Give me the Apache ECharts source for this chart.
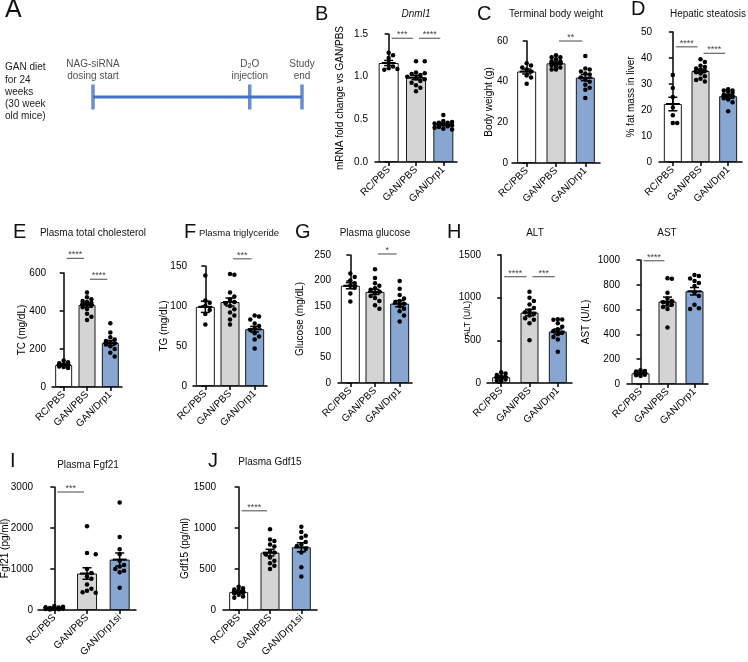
<!DOCTYPE html>
<html><head><meta charset="utf-8">
<script src="https://cdn.jsdelivr.net/npm/echarts@6/dist/echarts.min.js"></script>
<style>html,body{margin:0;padding:0;background:#fff}#c{width:748px;height:662px}</style>
</head><body><div id="c"></div>
<script>
// ---------- data ----------
const groups3 = ['RC/PBS', 'GAN/PBS', 'GAN/Drp1'];
const groupsSi = ['RC/PBS', 'GAN/PBS', 'GAN/Drp1si'];

// Panel A timeline
const timelineWeeks = [0, 9, 12];
const timelineTop = ['NAG-siRNA\ndosing start', 'D{s|2}O\ninjection', 'Study\nend'];
const timelineBottom = ['Week 0\n(weekly\ninjections)', 'Week 9', 'Week 12'];
const dietNote = ['GAN diet', 'for 24', 'weeks', '(30 week', 'old mice)'];

// B Dnml1
const dnmRC = [1.28, 1.25, 1.22, 1.16, 1.12, 1.10, 1.09, 1.08];
const dnmGAN = [1.18, 1.18, 1.05, 1.04, 1.03, 1.02, 1.00, 0.98, 0.97, 0.95, 0.93, 0.90, 0.87, 0.83];
const dnmDrp = [0.55, 0.48, 0.47, 0.46, 0.46, 0.45, 0.44, 0.43, 0.42, 0.41, 0.40, 0.39, 0.38];
const dnmMean = [1.16, 0.99, 0.44];
const dnmSem = [0.03, 0.026, 0.013];
const dnmSig = [[0, 1, 1.45, '***'], [1, 2, 1.45, '****']];

// C Terminal body weight
const bwRC = [49, 48, 47, 46, 45, 43, 42, 39];
const bwGAN = [53, 52, 52, 51, 50, 50, 49, 49, 48, 48, 47, 47, 46, 46];
const bwDrp = [52.6, 46.5, 46, 45, 44, 43.5, 42, 41, 40, 38.5, 37, 36, 32];
const bwMean = [45, 49, 42];
const bwSem = [1.2, 0.6, 1.5];
const bwSig = [[1, 2, 60, '**']];

// D Hepatic steatosis
const fatRC = [33.5, 28.5, 25, 21, 18, 15, 15];
const fatGAN = [39.5, 38.5, 37, 36.5, 36, 35.5, 35, 34.5, 34, 33, 32, 31.5, 31];
const fatDrp = [28, 27.5, 27.5, 27, 26.5, 26, 25.5, 25, 24.5, 24, 23, 19.5];
const fatMean = [22.3, 35, 25.3];
const fatSem = [2.6, 0.7, 0.7];
const fatSig = [[0, 1, 44.3, '****'], [1, 2, 41.8, '****']];

// E Plasma total cholesterol
const tcRC = [140, 130, 125, 120, 118, 115, 112, 110, 108, 105, 100];
const tcGAN = [497, 472, 462, 452, 447, 442, 440, 435, 428, 420, 410, 385, 370, 352];
const tcDrp = [335, 287, 262, 250, 242, 236, 230, 224, 214, 200, 180, 160];
const tcMean = [116, 432, 232];
const tcSem = [4, 11, 13];
const tcSig = [[0, 1, 677, '****'], [1, 2, 567, '****']];

// F Plasma triglyceride
const tgRC = [138, 107, 104, 100, 95, 90, 77];
const tgGAN = [140, 139, 117, 112, 108, 105, 103, 100, 96, 92, 88, 83, 77];
const tgDrp = [88, 87, 83, 78, 75, 72, 70, 66, 62, 58, 47];
const tgMean = [99, 105, 71];
const tgSem = [7, 5, 3.5];
const tgSig = [[1, 2, 159, '***']];

// G Plasma glucose
const gluRC = [214, 207, 200, 195, 190, 186, 175, 159];
const gluGAN = [222, 205, 195, 190, 185, 182, 178, 175, 170, 166, 160, 152, 145];
const gluDrp = [199, 184, 172, 165, 160, 158, 155, 150, 145, 140, 132, 120];
const gluMean = [190, 178, 155];
const gluSem = [6, 5, 6];
const gluSig = [[1, 2, 252, '*']];

// H ALT
const altRC = [125, 110, 95, 80, 70, 60, 50, 40, 30, 20];
const altGAN = [1070, 1000, 960, 920, 880, 850, 830, 810, 790, 760, 740, 700, 500];
const altDrp = [748, 745, 740, 700, 660, 630, 610, 590, 570, 540, 510, 365];
const altMean = [68, 825, 603];
const altSem = [11, 38, 30];
const altSig = [[0, 1, 1246, '****'], [1, 2, 1246, '***']];

// H AST
const astRC = [110, 105, 100, 95, 90, 85, 80, 75, 70, 65];
const astGAN = [852, 848, 735, 690, 670, 660, 650, 640, 620, 605, 455];
const astDrp = [880, 870, 850, 830, 815, 790, 740, 710, 640, 610, 605];
const astMean = [86, 665, 748];
const astSem = [5, 36, 30];
const astSig = [[0, 1, 994, '****']];

// I Plasma Fgf21
const fgfRC = [100, 80, 70, 60, 50, 40, 30, 25, 20, 15];
const fgfGAN = [2040, 1390, 1360, 1000, 900, 820, 760, 620, 520, 470, 430, 420];
const fgfDrp = [2620, 1780, 1480, 1360, 1200, 1100, 1060, 1000, 960, 920, 540];
const fgfMean = [50, 890, 1230];
const fgfSem = [9, 140, 160];
const fgfSig = [[0, 1, 2878, '***']];

// J Plasma Gdf15
const gdfRC = [285, 265, 250, 240, 232, 225, 218, 210, 200, 185, 165, 150];
const gdfGAN = [985, 860, 840, 800, 775, 720, 700, 680, 640, 600, 570, 540, 500];
const gdfDrp = [1015, 950, 905, 880, 830, 800, 780, 745, 700, 520, 410];
const gdfMean = [218, 700, 765];
const gdfSem = [12, 40, 55];
const gdfSig = [[0, 1, 1210, '****']];

const panels = [
  {letter: 'B', title: 'Dnml1', yname: 'mRNA fold change vs GAN/PBS', cats: groups3, mean: dnmMean, sem: dnmSem, pts: [dnmRC, dnmGAN, dnmDrp], sig: dnmSig},
  {letter: 'C', title: 'Terminal body weight', yname: 'Body weight (g)', cats: groups3, mean: bwMean, sem: bwSem, pts: [bwRC, bwGAN, bwDrp], sig: bwSig},
  {letter: 'D', title: 'Hepatic steatosis', yname: '% fat mass in liver', cats: groups3, mean: fatMean, sem: fatSem, pts: [fatRC, fatGAN, fatDrp], sig: fatSig},
  {letter: 'E', title: 'Plasma total cholesterol', yname: 'TC (mg/dL)', cats: groups3, mean: tcMean, sem: tcSem, pts: [tcRC, tcGAN, tcDrp], sig: tcSig},
  {letter: 'F', title: 'Plasma triglyceride', yname: 'TG (mg/dL)', cats: groups3, mean: tgMean, sem: tgSem, pts: [tgRC, tgGAN, tgDrp], sig: tgSig},
  {letter: 'G', title: 'Plasma glucose', yname: 'Glucose (mg/dL)', cats: groups3, mean: gluMean, sem: gluSem, pts: [gluRC, gluGAN, gluDrp], sig: gluSig},
  {letter: 'H', title: 'ALT', yname: 'ALT (U/L)', cats: groups3, mean: altMean, sem: altSem, pts: [altRC, altGAN, altDrp], sig: altSig},
  {letter: '', title: 'AST', yname: 'AST (U/L)', cats: groups3, mean: astMean, sem: astSem, pts: [astRC, astGAN, astDrp], sig: astSig},
  {letter: 'I', title: 'Plasma Fgf21', yname: 'Fgf21 (pg/ml)', cats: groupsSi, mean: fgfMean, sem: fgfSem, pts: [fgfRC, fgfGAN, fgfDrp], sig: fgfSig},
  {letter: 'J', title: 'Plasma Gdf15', yname: 'Gdf15 (pg/ml)', cats: groupsSi, mean: gdfMean, sem: gdfSem, pts: [gdfRC, gdfGAN, gdfDrp], sig: gdfSig}
];

// ---------- layout / style ----------
const layout = [
  {grid: [375, 34, 82, 128], max: 1.5, step: 0.5, dec: 1, gap: 30, nf: 10, lm: 7, barW: 20, tx: 416, ty: 15, tf: 10, lx: 315, ly: 7, italic: true},
  {grid: [512, 41, 88, 122], max: 60, step: 20, dec: 0, gap: 18, nf: 10, lm: 4, barW: 19, tx: 556, ty: 15, tf: 10, lx: 477, ly: 7},
  {grid: [659, 32, 83, 130], max: 50, step: 10, dec: 0, gap: 23, nf: 10, lm: 7, barW: 18, tx: 708, ty: 15, tf: 10, lx: 631, ly: 2},
  {grid: [52, 273, 70, 114], max: 600, step: 200, dec: 0, gap: 25, nf: 10, lm: 6, barW: 17, tx: 93, ty: 234.5, tf: 10, lx: 13, ly: 225},
  {grid: [193, 266, 74, 120], max: 150, step: 50, dec: 0, gap: 24, nf: 10, lm: 6, barW: 19, tx: 239, ty: 234.5, tf: 9.5, lx: 184, ly: 225},
  {grid: [338, 255, 74, 128], max: 250, step: 50, dec: 0, gap: 33, nf: 10, lm: 7, barW: 19, tx: 375, ty: 234.5, tf: 10, lx: 295, ly: 225},
  {grid: [487, 255, 85, 128], max: 1500, step: 500, dec: 0, gap: 15, nf: 8.5, lm: 6, barW: 18, tx: 535, ty: 234.5, tf: 10, lx: 447, ly: 225},
  {grid: [627, 260, 81, 124], max: 1000, step: 200, dec: 0, gap: 36, nf: 10, lm: 7, barW: 18, tx: 667, ty: 234.5, tf: 10, lx: 0, ly: 0},
  {grid: [38, 487, 98, 123], max: 3000, step: 1000, dec: 0, gap: 28, nf: 10, lm: 5, barW: 20, tx: 88, ty: 466.7, tf: 10, lx: 10, ly: 454},
  {grid: [223, 487, 94, 123], max: 1500, step: 500, dec: 0, gap: 33, nf: 10, lm: 7, barW: 19, tx: 270, ty: 463.3, tf: 10, lx: 208, ly: 454}
];
const FONT = "'Liberation Sans', Arial, Helvetica, sans-serif";
const barColors = ['#ffffff', '#d4d4d4', '#87a6d2'];
const timelineColor = '#4472c4';

// deterministic beeswarm layout of dots (pixel based)
function swarmOffsets(vals, pxPerUnit, bandPx, dot, maxHalf) {
  const idx = vals.map((v, i) => i).sort((a, b) => vals[b] - vals[a]);
  const placed = [];
  const off = new Array(vals.length).fill(0);
  idx.forEach(i => {
    const y = vals[i] * pxPerUnit;
    let best = 0, bestScore = -Infinity;
    for (let k = 0; k < 15; k++) {
      const dx = k === 0 ? 0 : (k % 2 ? 1 : -1) * Math.ceil(k / 2) * dot * 0.95;
      if (Math.abs(dx) > maxHalf) continue;
      let minD = Infinity;
      placed.forEach(p => { minD = Math.min(minD, Math.hypot(p.dx - dx, p.y - y)); });
      if (minD >= dot) { best = dx; bestScore = Infinity; break; }
      if (minD > bestScore) { bestScore = minD; best = dx; }
    }
    placed.push({dx: best, y});
    off[i] = best / bandPx;
  });
  return off;
}

function errRender(params, api) {
  const x = api.value(0), m = api.value(1), s = api.value(2);
  const c = api.coord([x, m]), t = api.coord([x, m + s]), b = api.coord([x, m - s]);
  const st = {stroke: '#000', lineWidth: 1.5};
  return {type: 'group', children: [
    {type: 'line', shape: {x1: c[0], y1: t[1], x2: c[0], y2: b[1]}, style: st},
    {type: 'line', shape: {x1: c[0] - 4.5, y1: t[1], x2: c[0] + 4.5, y2: t[1]}, style: st},
    {type: 'line', shape: {x1: c[0] - 4.5, y1: b[1], x2: c[0] + 4.5, y2: b[1]}, style: st},
    {type: 'line', shape: {x1: c[0] - 7, y1: c[1], x2: c[0] + 7, y2: c[1]}, style: {stroke: '#000', lineWidth: 2}}
  ]};
}

function makeSigRender(list) {
  return function (params, api) {
    const a = api.coord([api.value(0), api.value(2)]);
    const b = api.coord([api.value(1), api.value(2)]);
    const x1 = a[0] + 3, x2 = b[0] - 3, y = a[1];
    return {type: 'group', children: [
      {type: 'line', shape: {x1: x1, y1: y, x2: x2, y2: y}, style: {stroke: '#666', lineWidth: 1.2}},
      {type: 'text', x: (x1 + x2) / 2, y: y + 1, style: {text: list[params.dataIndex][3], fill: '#444', fontSize: 9, fontFamily: FONT, align: 'center', verticalAlign: 'bottom'}}
    ]};
  };
}

const grids = [], xAxes = [], yAxes = [], series = [], titles = [];

panels.forEach((p, i) => {
  const L = layout[i];
  const [gl, gt, gw, gh] = L.grid;
  grids.push({left: gl, top: gt, width: gw, height: gh, containLabel: false, outerBoundsMode: 'none'});
  xAxes.push({
    type: 'category', gridIndex: i, data: p.cats, position: 'bottom',
    axisLine: {show: true, lineStyle: {color: '#000', width: 1.5}},
    axisTick: {show: true, alignWithLabel: true, length: 4, lineStyle: {color: '#000', width: 1.5}},
    axisLabel: {rotate: 45, interval: 0, fontSize: 10, color: '#000', fontFamily: FONT, margin: 6},
    splitLine: {show: false}
  });
  xAxes.push({type: 'value', gridIndex: i, min: -0.5, max: 2.5, show: false});
  yAxes.push({
    type: 'value', gridIndex: i, min: 0, max: L.max, interval: L.step,
    name: p.yname, nameLocation: 'middle', nameGap: L.gap, nameMoveOverlap: false,
    nameTextStyle: {fontSize: L.nf, color: '#000', fontFamily: FONT},
    axisLine: {show: true, lineStyle: {color: '#000', width: 1.5}},
    axisTick: {show: true, length: 4, lineStyle: {color: '#000', width: 1.5}},
    axisLabel: {fontSize: 10, color: '#000', fontFamily: FONT, margin: L.lm, formatter: v => v.toFixed(L.dec)},
    splitLine: {show: false}
  });
  const xc = 2 * i, xv = 2 * i + 1;
  series.push({
    type: 'bar', xAxisIndex: xc, yAxisIndex: i, barWidth: L.barW, silent: true,
    data: p.mean.map((m, k) => ({value: m, itemStyle: {color: barColors[k], borderColor: '#1a1a1a', borderWidth: 1}}))
  });
  const pxPerUnit = gh / L.max, bandPx = gw / 3;
  const pts = [];
  p.pts.forEach((arr, k) => {
    const off = swarmOffsets(arr, pxPerUnit, bandPx, 4.6, L.barW / 2 - 1);
    arr.forEach((v, j) => pts.push([k + off[j], v]));
  });
  series.push({type: 'scatter', xAxisIndex: xv, yAxisIndex: i, data: pts, symbolSize: 4.5, itemStyle: {color: '#000', opacity: 1}, silent: true, z: 3});
  series.push({type: 'custom', xAxisIndex: xv, yAxisIndex: i, data: p.mean.map((m, k) => [k, m, p.sem[k]]), renderItem: errRender, clip: false, silent: true, z: 4});
  series.push({type: 'custom', xAxisIndex: xv, yAxisIndex: i, data: p.sig.map(s => [s[0], s[1], s[2]]), renderItem: makeSigRender(p.sig), clip: false, silent: true, z: 4});
  titles.push({text: p.title, left: L.tx, top: L.ty - L.tf * 0.6, textAlign: 'center', padding: 0,
    textStyle: {fontSize: L.tf, fontWeight: 'normal', fontStyle: L.italic ? 'italic' : 'normal', color: '#111', fontFamily: FONT}});
  if (p.letter) {
    titles.push({text: p.letter, left: L.lx, top: L.ly - 3, padding: 0,
      textStyle: {fontSize: 20, fontWeight: 'normal', color: '#111', fontFamily: FONT}});
  }
});

// ---------- Panel A timeline ----------
const gA = panels.length;
grids.push({left: 93, top: 87, width: 209, height: 20, containLabel: false, outerBoundsMode: 'none'});
xAxes.push({type: 'value', gridIndex: gA, min: 0, max: 12, show: false});
yAxes.push({type: 'value', gridIndex: gA, min: -1, max: 1, show: false});
const xA = xAxes.length - 1;
series.push({type: 'line', xAxisIndex: xA, yAxisIndex: gA, data: timelineWeeks.map(w => [w, 0]), symbol: 'none',
  lineStyle: {color: timelineColor, width: 3}, silent: true});
series.push({type: 'scatter', xAxisIndex: xA, yAxisIndex: gA, symbol: 'rect', symbolSize: [3.5, 25], silent: true,
  itemStyle: {color: timelineColor},
  data: timelineWeeks.map((w, k) => ({value: [w, 0], label: {formatter: timelineTop[k]}})),
  label: {show: true, position: 'top', distance: 2, fontSize: 10, lineHeight: 12.5, color: '#222', fontFamily: FONT, align: 'center',
    rich: {s: {fontSize: 7, verticalAlign: 'bottom', lineHeight: 12.5, fontFamily: FONT, color: '#222'}}}
});
series.push({type: 'scatter', xAxisIndex: xA, yAxisIndex: gA, symbol: 'rect', symbolSize: [3.5, 25], silent: true,
  itemStyle: {color: timelineColor, opacity: 0},
  data: timelineWeeks.map((w, k) => ({value: [w, 0], label: k === 0 ? {formatter: timelineBottom[k], align: 'left', offset: [-10, 0]} : {formatter: timelineBottom[k]}})),
  label: {show: true, position: 'bottom', distance: 4, fontSize: 10, lineHeight: 12.2, color: '#222', fontFamily: FONT, align: 'center'}
});
titles.push({text: 'A', left: 5, top: -2, padding: 0, textStyle: {fontSize: 25, fontWeight: 'normal', color: '#111', fontFamily: FONT}});
titles.push({text: dietNote.join('\n'), left: 5, top: 61.5, padding: 0,
  textStyle: {fontSize: 10, lineHeight: 12.2, fontWeight: 'normal', color: '#222', fontFamily: FONT}});

const chart = echarts.init(document.getElementById('c'), null, {renderer: 'canvas', width: 748, height: 662});
chart.setOption({
  animation: false,
  backgroundColor: '#fff',
  textStyle: {fontFamily: FONT},
  title: titles,
  grid: grids,
  xAxis: xAxes,
  yAxis: yAxes,
  series: series
});
</script>
</body></html>
